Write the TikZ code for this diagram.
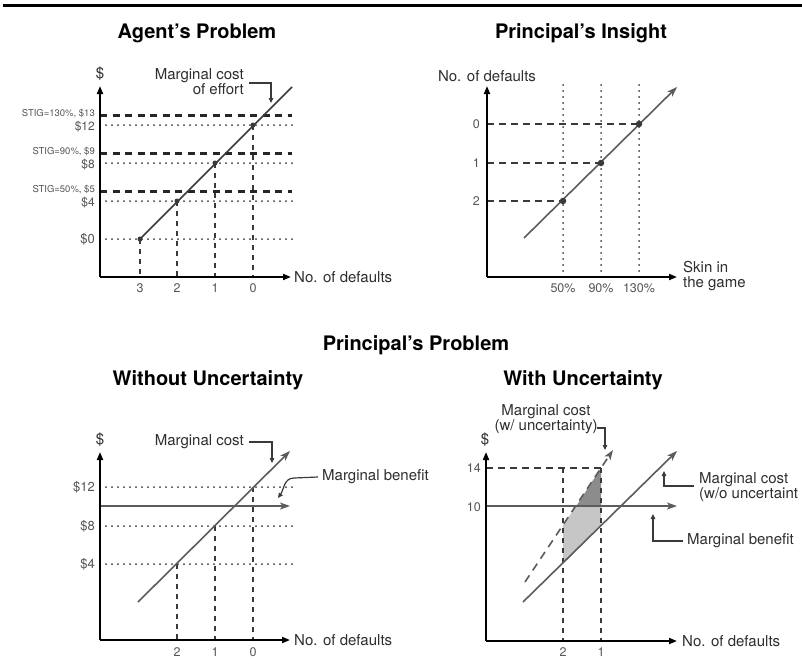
\documentclass[tikz,border=0pt]{standalone}
\usepackage{fontspec}
\setmainfont{TeX Gyre Heros}
\usetikzlibrary{arrows.meta}
\definecolor{lab}{HTML}{2E2E2E}
\definecolor{ticklabc}{HTML}{555555}
\definecolor{curvec}{HTML}{5C5C5C}
\definecolor{linec}{HTML}{3A3A3A}
\definecolor{darkfill}{HTML}{8C8C8C}
\definecolor{lightfill}{HTML}{C6C6C6}
\tikzset{
  ptitle/.style={font=\bfseries\fontsize{20}{21}\selectfont, text=black, inner sep=0pt},
  lab/.style={font=\fontsize{15}{15}\selectfont, text=lab, inner sep=0pt},
  ticklab/.style={font=\fontsize{12.5}{13}\selectfont, text=ticklabc, inner sep=0pt},
  dollab/.style={font=\fontsize{13}{13}\selectfont, text=ticklabc, inner sep=0pt, anchor=east},
  dollabs/.style={font=\fontsize{12}{12}\selectfont, text=ticklabc, inner sep=0pt, anchor=east},
  stiglab/.style={font=\fontsize{9.5}{9.5}\selectfont, text=ticklabc, inner sep=0pt, anchor=east},
  axisline/.style={black, line width=1.8pt, -{Triangle[length=8pt,width=6pt]}},
  costarrow/.style={curvec, line width=1.6pt, -{Stealth[length=10pt,width=7pt,inset=2.5pt]}},
  dotline/.style={linec, line width=2pt, line cap=round, dash pattern=on 0pt off 6pt},
  stigdash/.style={black!85, line width=2.4pt, dash pattern=on 7pt off 5.5pt},
  hdash/.style={linec, line width=2pt, dash pattern=on 7pt off 5pt},
  vdash/.style={linec, line width=2pt, dash pattern=on 5pt off 5pt},
  callout/.style={linec, line width=1.2pt, -{Triangle[length=5pt,width=4.5pt]}},
  ptmark/.style={circle, fill=linec, inner sep=0pt, minimum size=5pt},
}
\begin{document}
\begin{tikzpicture}[x=1pt,y=-1pt]
\useasboundingbox (0,0) rectangle (802,670);
\fill[white] (0,0) rectangle (802,670);
\coordinate (ruleL) at (3,5);
\coordinate (ruleR) at (802,5);
\draw[black, line width=3pt] (ruleL) -- (ruleR);

%% ===== Panel 1: Agent's Problem =====
\node[ptitle] (t1) at (197,33) {Agent’s Problem};
\coordinate (o1) at (100,277);
\coordinate (y1) at (100,86);
\coordinate (x1) at (291,277);
\draw[dotline] (100,239) -- (292,239);
\node[dollab] (dl0) at (95,239) {\$0};
\foreach \y/\l [count=\i] in {201/\$4, 163/\$8, 125/\$12}{
  \draw[dotline] (100,\y) -- (292,\y);
  \node[dollabs] (dl\i) at (95,\y+1.5) {\l};
}
\foreach \y/\l [count=\i] in {115.5/{STIG=130\%, \$13}, 153.5/{STIG=90\%, \$9}, 191.5/{STIG=50\%, \$5}}{
  \draw[stigdash] (100,\y) -- (292,\y);
  \node[stiglab] (sl\i) at (95,\y-2) {\l};
}
\foreach \x/\y/\n in {140/239/3, 177/201/2, 215/163/1, 253/125/0}{
  \coordinate (p1\n) at (\x,\y);
  \draw[vdash] (p1\n) -- (\x,277);
  \node[ticklab] (tk1\n) at (\x,288) {\n};
}
\coordinate (c1s) at (140,239);
\coordinate (c1e) at (292,87);
\draw[linec, line width=1.6pt] (c1s) -- (c1e);
\foreach \n in {3,2,1,0}{ \node[ptmark] at (p1\n) {}; }
\draw[axisline] (o1) -- (y1);
\draw[axisline] (o1) -- (x1);
\node[lab] (dol1) at (100,74) {\$};
\node[lab, anchor=west] (xl1) at (294,277) {No. of defaults};
\node[lab, align=right, anchor=east] (mc1) at (244,82) {Marginal cost\\of effort};
\coordinate (mc1tip) at (271,103);
\draw[callout] ([xshift=5pt,yshift=-1pt]mc1.east) -| (mc1tip);

%% ===== Panel 2: Principal's Insight =====
\node[ptitle] (t2) at (581,33) {Principal’s Insight};
\coordinate (o2) at (487,277);
\coordinate (y2) at (487,86);
\coordinate (x2) at (677,277);
\foreach \x/\l [count=\i] in {563/50\%, 601/90\%, 639/130\%}{
  \draw[dotline] (\x,85) -- (\x,277);
  \node[ticklab] (tk2\i) at (\x,288) {\l};
}
\foreach \x/\y/\n in {563/201/2, 601/163/1, 639/124/0}{
  \coordinate (p2\n) at (\x,\y);
  \draw[hdash] (487,\y) -- (p2\n);
  \node[ticklab, anchor=east] (yl2\n) at (480,\y) {\n};
}
\coordinate (c2s) at (524,238);
\coordinate (c2e) at (677,87);
\draw[costarrow] (c2s) -- (c2e);
\foreach \n in {2,1,0}{ \node[ptmark, minimum size=6.5pt] at (p2\n) {}; }
\draw[axisline] (o2) -- (y2);
\draw[axisline] (o2) -- (x2);
\node[lab] (yt2) at (487,76) {No. of defaults};
\node[lab, anchor=west, align=left] (xl2) at (683,276) {Skin in\\the game};

%% ===== Principal's Problem =====
\node[ptitle] (t3) at (416,345) {Principal’s Problem};

%% ===== Panel 3: Without Uncertainty =====
\node[ptitle] (t3a) at (208,380) {Without Uncertainty};
\coordinate (o3) at (100,640);
\coordinate (y3) at (100,452);
\coordinate (x3) at (290,640);
\foreach \y/\l [count=\i] in {487/\$12, 526/\$8, 564/\$4}{
  \draw[dotline] (100,\y) -- (292,\y);
  \node[dollab] (dl3\i) at (95,\y) {\l};
}
\foreach \x/\y/\n in {177/564/2, 215/526/1, 253/487/0}{
  \coordinate (p3\n) at (\x,\y);
  \draw[vdash] (p3\n) -- (\x,640);
  \node[ticklab] (tk3\n) at (\x,652) {\n};
}
\coordinate (mb3s) at (100,506);
\coordinate (mb3e) at (290,506);
\draw[costarrow] (mb3s) -- (mb3e);
\coordinate (c3s) at (138,602);
\coordinate (c3e) at (290,451);
\draw[costarrow] (c3s) -- (c3e);
\draw[axisline] (o3) -- (y3);
\draw[axisline] (o3) -- (x3);
\node[lab] (dol3) at (100,440) {\$};
\node[lab, anchor=west] (xl3) at (294,640) {No. of defaults};
\node[lab, anchor=east] (mc3) at (244,442) {Marginal cost};
\coordinate (mc3tip) at (272,463);
\draw[callout] ([xshift=5pt]mc3.east) -| (mc3tip);
\node[lab, anchor=west] (mb3) at (322,477) {Marginal benefit};
\coordinate (mb3tip) at (278,498);
\coordinate (mb3k) at (294,478);
\draw[callout] ([xshift=-4pt]mb3.west) -- (mb3k) to[out=180,in=55] (mb3tip);

%% ===== Panel 4: With Uncertainty =====
\node[ptitle] (t4) at (583,380) {With Uncertainty};
\coordinate (o4) at (486,641);
\coordinate (y4) at (486,452);
\coordinate (x4) at (677,641);
\fill[lightfill] (563,525) -- (576.3,506) -- (601,506) -- (601,526) -- (563,564) -- cycle;
\fill[darkfill] (576.3,506) -- (601,506) -- (601,468) -- cycle;
\coordinate (r14) at (601,468);
\draw[hdash, line width=1.8pt] (486,468) -- (r14);
\draw[vdash, line width=1.8pt] (563,468) -- (563,641);
\draw[vdash, line width=1.8pt] (r14) -- (601,641);
\node[ticklab, anchor=east] (yl14) at (481,468) {14};
\node[ticklab, anchor=east] (yl10) at (481,507) {10};
\node[ticklab] (tk42) at (563,652) {2};
\node[ticklab] (tk41) at (601,652) {1};
\coordinate (mb4s) at (486,506);
\coordinate (mb4e) at (677,506);
\draw[costarrow] (mb4s) -- (mb4e);
\coordinate (c4s) at (523,602);
\coordinate (c4e) at (677,451);
\draw[costarrow] (c4s) -- (c4e);
\coordinate (u4s) at (525,582);
\coordinate (u4e) at (613,450);
\draw[costarrow, dash pattern=on 8pt off 6pt] (u4s) -- (u4e);
\draw[axisline] (o4) -- (y4);
\draw[axisline] (o4) -- (x4);
\node[lab] (dol4) at (485,440) {\$};
\node[lab, align=center] (mcu4) at (546,419.5) {Marginal cost\\(w/ uncertainty)};
\coordinate (mcu4tip) at (605,450);
\coordinate (mcu4k) at (597,428);
\draw[callout] (mcu4k) -| (mcu4tip);
\node[lab, anchor=west] (xl4) at (682,641) {No. of defaults};
\node[lab, anchor=west, align=left] (mco4) at (699,487) {Marginal cost\\(w/o uncertaint};
\coordinate (mco4tip) at (664,471);
\draw[callout] ([xshift=-5pt,yshift=1pt]mco4.west) -| (mco4tip);
\node[lab, anchor=west] (mb4) at (687,541) {Marginal benefit};
\coordinate (mb4tip) at (653,514);
\draw[callout] ([xshift=-4pt]mb4.west) -| (mb4tip);
\end{tikzpicture}
\end{document}
